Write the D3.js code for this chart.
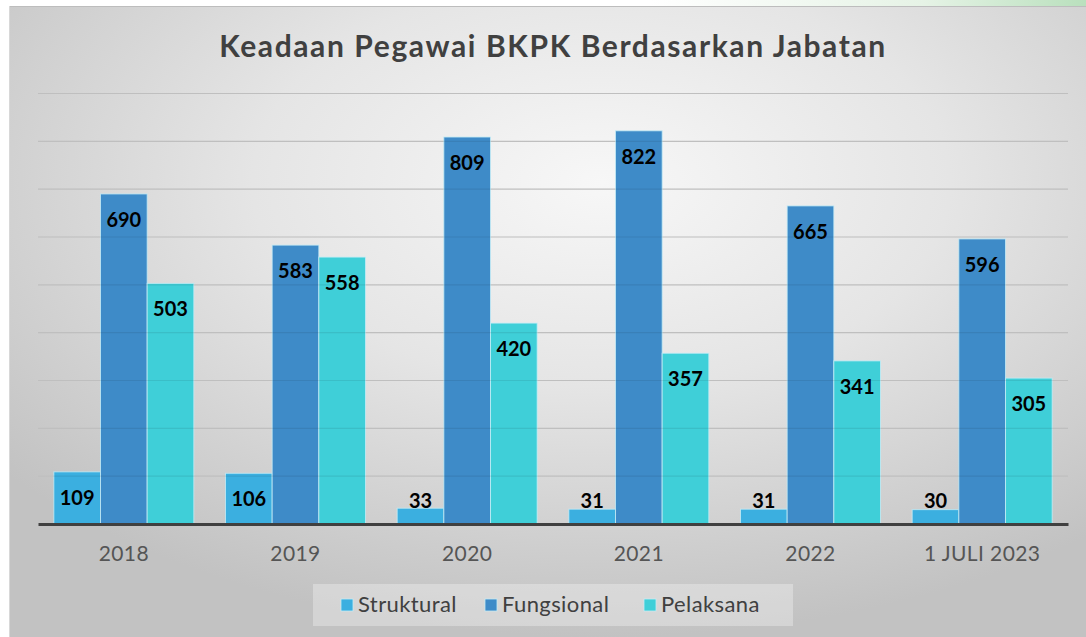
<!doctype html>
<html>
  <head>
    <script src="https://d3js.org/d3.v7.min.js"></script>
    <style>
      body { margin: 0; background: #ffffff; }
      svg { display: block; }
    </style>
  </head>
  <body>
    <script>
    // data
    var categories = ["2018", "2019", "2020", "2021", "2022", "1 JULI 2023"];
    var seriesNames = ["Struktural", "Fungsional", "Pelaksana"];
    var struktural = [109, 106, 33, 31, 31, 30];
    var fungsional = [690, 583, 809, 822, 665, 596];
    var pelaksana = [503, 558, 420, 357, 341, 305];
    var yTicks = [0, 100, 200, 300, 400, 500, 600, 700, 800, 900];
    var seriesColors = ["#3bafe0", "#3e8bc8", "#3fcfd8"];

    var width = 1086;
    var height = 637;

    var margin = {top: 93.5, right: 18, bottom: 113, left: 38};
    var innerWidth = width - margin.left - margin.right;
    var innerHeight = height - margin.top - margin.bottom;

    var svg = d3.select("body")
              .append("svg")
              .attr("width", width)
              .attr("height", height);

    var defs = svg.append("defs");

    var bg = defs.append("radialGradient")
              .attr("id", "bg")
              .attr("cx", "55%")
              .attr("cy", "28%")
              .attr("r", "72%");
    bg.append("stop").attr("offset", "0%").attr("stop-color", "#f7f7f7");
    bg.append("stop").attr("offset", "45%").attr("stop-color", "#e5e5e5");
    bg.append("stop").attr("offset", "100%").attr("stop-color", "#c2c2c2");

    var mint = defs.append("linearGradient")
              .attr("id", "mint")
              .attr("x1", "0%").attr("x2", "100%");
    mint.append("stop").attr("offset", "0%").attr("stop-color", "#ffffff");
    mint.append("stop").attr("offset", "60%").attr("stop-color", "#ffffff");
    mint.append("stop").attr("offset", "85%").attr("stop-color", "#e6f3e6");
    mint.append("stop").attr("offset", "100%").attr("stop-color", "#b9e0bd");

    // slide strip above the chart
    svg.append("rect")
      .attr("x", 0).attr("y", 0)
      .attr("width", width).attr("height", 6)
      .attr("fill", "url(#mint)");

    // chart background
    svg.append("rect")
      .attr("x", 9).attr("y", 6)
      .attr("width", width - 9).attr("height", height - 6)
      .attr("fill", "url(#bg)");

    svg.append("line")
      .attr("x1", 9).attr("x2", width)
      .attr("y1", 6.5).attr("y2", 6.5)
      .attr("stroke", "#bdbdbd")
      .attr("stroke-width", 1);

    svg.append("line")
      .attr("x1", 9.5).attr("x2", 9.5)
      .attr("y1", 6).attr("y2", height)
      .attr("stroke", "#d8d8d8")
      .attr("stroke-width", 1);

    // title
    svg.append("text")
      .attr("x", 553)
      .attr("y", 57)
      .attr("text-anchor", "middle")
      .attr("font-family", "Lato, 'DejaVu Sans', sans-serif")
      .attr("font-weight", "bold")
      .attr("font-size", "30px")
      .attr("letter-spacing", "1.6px")
      .attr("fill", "#404040")
      .text("Keadaan Pegawai BKPK Berdasarkan Jabatan");

    var g = svg.append("g")
            .attr("transform", "translate(" + margin.left + "," + margin.top + ")");

    // scales
    var yScale = d3.scaleLinear()
                  .domain([0, 900])
                  .range([innerHeight, 0]);

    var x0 = d3.scaleBand()
              .domain(categories)
              .range([0, innerWidth]);

    var gap = x0.bandwidth() * 0.0923;
    var x1 = d3.scaleBand()
              .domain(seriesNames)
              .range([gap, x0.bandwidth() - gap]);

    var color = d3.scaleOrdinal()
                  .domain(seriesNames)
                  .range(seriesColors);

    var values = [struktural, fungsional, pelaksana];
    var rows = [];
    categories.forEach(function(c, i) {
      seriesNames.forEach(function(s, j) {
        rows.push({cat: c, series: s, value: values[j][i]});
      });
    });

    // gridlines
    g.append("g")
      .selectAll("line")
      .data(yTicks.filter(function(t) { return t > 0; }))
      .enter()
        .append("line")
        .attr("x1", 0)
        .attr("x2", innerWidth)
        .attr("y1", function(d) { return yScale(d); })
        .attr("y2", function(d) { return yScale(d); })
        .attr("stroke", "#d0d0d0")
        .attr("stroke-width", 1.2);

    // bars
    g.append("g")
      .selectAll("rect")
      .data(rows)
      .enter()
        .append("rect")
        .attr("x", function(d) { return x0(d.cat) + x1(d.series); })
        .attr("y", function(d) { return yScale(d.value); })
        .attr("width", x1.bandwidth())
        .attr("height", function(d) { return innerHeight - yScale(d.value); })
        .attr("fill", function(d) { return color(d.series); })
        .attr("stroke", "#c4ecf6")
        .attr("stroke-opacity", 0.8)
        .attr("stroke-width", 1);

    // gridlines faintly over bars
    g.append("g")
      .selectAll("line")
      .data(yTicks.filter(function(t) { return t > 0; }))
      .enter()
        .append("line")
        .attr("x1", 0)
        .attr("x2", innerWidth)
        .attr("y1", function(d) { return yScale(d); })
        .attr("y2", function(d) { return yScale(d); })
        .attr("stroke", "#000000")
        .attr("stroke-opacity", 0.08)
        .attr("stroke-width", 1.2);

    // value labels
    g.append("g")
      .selectAll("text")
      .data(rows)
      .enter()
        .append("text")
        .attr("x", function(d) { return x0(d.cat) + x1(d.series) + x1.bandwidth() / 2; })
        .attr("y", function(d) { return Math.min(yScale(d.value) + 26, innerHeight - 23) + 7; })
        .attr("text-anchor", "middle")
        .attr("font-family", "Lato, 'DejaVu Sans', sans-serif")
        .attr("font-weight", "bold")
        .attr("font-size", "20px")
        .attr("fill", "#000000")
        .text(function(d) { return d.value; });

    // x axis
    var xAxis = d3.axisBottom(x0).tickSize(0).tickPadding(22);
    var xg = g.append("g")
      .attr("transform", "translate(0," + innerHeight + ")")
      .call(xAxis);
    xg.select(".domain")
      .attr("stroke", "#404040")
      .attr("stroke-width", 3);
    xg.selectAll("text")
      .attr("font-family", "Lato, 'DejaVu Sans', sans-serif")
      .attr("font-size", "21px")
      .attr("letter-spacing", "0.4px")
      .attr("fill", "#555555");

    // legend
    var legend = svg.append("g");
    legend.append("rect")
      .attr("x", 313).attr("y", 584)
      .attr("width", 480).attr("height", 42)
      .attr("fill", "#ffffff")
      .attr("fill-opacity", 0.3);

    var legendX = [341, 485, 644];
    seriesNames.forEach(function(s, i) {
      legend.append("rect")
        .attr("x", legendX[i]).attr("y", 599)
        .attr("width", 12).attr("height", 12)
        .attr("fill", color(s))
        .attr("stroke", "#c4ecf6")
        .attr("stroke-width", 0.8);
      legend.append("text")
        .attr("x", legendX[i] + 17)
        .attr("y", 612)
        .attr("font-family", "Lato, 'DejaVu Sans', sans-serif")
        .attr("font-size", "22px")
        .attr("letter-spacing", "0.4px")
        .attr("fill", "#404040")
        .text(s);
    });
    </script>
  </body>
</html>
